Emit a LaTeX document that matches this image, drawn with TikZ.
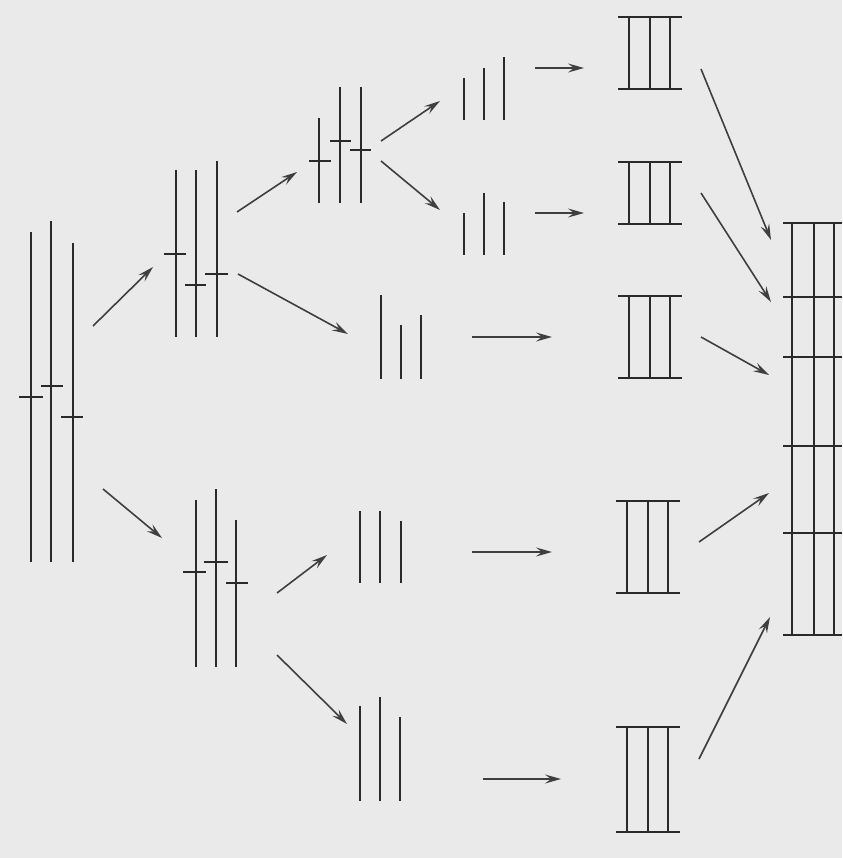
\documentclass[tikz,border=0pt]{standalone}
\usetikzlibrary{arrows.meta}
\definecolor{ink}{HTML}{2A2A2A}
\definecolor{bgc}{HTML}{EAEAEA}
\begin{document}
\begin{tikzpicture}[x=1pt,y=-1pt,
  bar/.style={line width=2pt, draw=ink},
  arr/.style={line width=1.6pt, draw=ink!90, -{Stealth[length=16pt,width=9pt,inset=6pt]}}]
\fill[bgc] (0,0) rectangle (842,858);
\useasboundingbox (0,0) rectangle (842,858);

% ---- group A (leftmost)
\draw[bar] (31,232) -- (31,562);
\draw[bar] (51,221) -- (51,562);
\draw[bar] (73,243) -- (73,562);
\draw[bar] (19,397) -- (43,397);
\draw[bar] (41,386) -- (63,386);
\draw[bar] (61,417) -- (83,417);

% ---- group B (upper second)
\draw[bar] (176,170) -- (176,337);
\draw[bar] (196,170) -- (196,337);
\draw[bar] (217,161) -- (217,337);
\draw[bar] (164,254) -- (186,254);
\draw[bar] (185,285) -- (206,285);
\draw[bar] (205,274) -- (228,274);

% ---- group G (lower second)
\draw[bar] (196,500) -- (196,667);
\draw[bar] (216,489) -- (216,667);
\draw[bar] (236,520) -- (236,667);
\draw[bar] (183,572) -- (206,572);
\draw[bar] (204,562) -- (228,562);
\draw[bar] (226,583) -- (248,583);

% ---- group C (top third)
\draw[bar] (319,118) -- (319,203);
\draw[bar] (340,87) -- (340,203);
\draw[bar] (361,87) -- (361,203);
\draw[bar] (309,161) -- (331,161);
\draw[bar] (330,141) -- (351,141);
\draw[bar] (350,150) -- (371,150);

% ---- group F (middle third)
\draw[bar] (381,295) -- (381,379);
\draw[bar] (401,325) -- (401,379);
\draw[bar] (421,315) -- (421,379);

% ---- group H
\draw[bar] (360,511) -- (360,583);
\draw[bar] (380,511) -- (380,583);
\draw[bar] (401,521) -- (401,583);

% ---- group I
\draw[bar] (360,706) -- (360,801);
\draw[bar] (380,697) -- (380,801);
\draw[bar] (400,717) -- (400,801);

% ---- group D
\draw[bar] (464,78) -- (464,120);
\draw[bar] (484,68) -- (484,120);
\draw[bar] (504,57) -- (504,120);

% ---- group E
\draw[bar] (464,213) -- (464,255);
\draw[bar] (484,193) -- (484,255);
\draw[bar] (504,202) -- (504,255);

% ---- frames (fourth column)
\foreach \t/\b/\l in {17/89/618, 162/224/618, 296/378/618, 501/593/616, 727/832/616}{
  \draw[bar] (\l,\t) -- (\l+64,\t);
  \draw[bar] (\l,\b) -- (\l+64,\b);
  \draw[bar] (\l+11,\t) -- (\l+11,\b);
  \draw[bar] (\l+32,\t) -- (\l+32,\b);
  \draw[bar] (\l+52,\t) -- (\l+52,\b);
}

% ---- final grid
\foreach \y in {223,297,357,446,533,635}{
  \draw[bar] (783,\y) -- (842,\y);
}
\foreach \x in {792,814,834}{
  \draw[bar] (\x,223) -- (\x,635);
}

% ---- arrow end points
\coordinate (a1s) at (93,326);  \coordinate (a1e) at (153,267);
\coordinate (a2s) at (103,489); \coordinate (a2e) at (162,538);
\coordinate (b1s) at (237,212); \coordinate (b1e) at (297,172);
\coordinate (b2s) at (238,274); \coordinate (b2e) at (348,334);
\coordinate (c1s) at (381,141); \coordinate (c1e) at (440,101);
\coordinate (c2s) at (381,161); \coordinate (c2e) at (440,210);
\coordinate (g1s) at (277,593); \coordinate (g1e) at (327,555);
\coordinate (g2s) at (277,655); \coordinate (g2e) at (347,724);
\coordinate (d1s) at (535,68);  \coordinate (d1e) at (584,68);
\coordinate (e1s) at (535,213); \coordinate (e1e) at (584,213);
\coordinate (f1s) at (472,337); \coordinate (f1e) at (552,337);
\coordinate (h1s) at (472,552); \coordinate (h1e) at (552,552);
\coordinate (i1s) at (483,779); \coordinate (i1e) at (561,779);
\coordinate (k1s) at (701,69);  \coordinate (k1e) at (771,240);
\coordinate (k2s) at (701,193); \coordinate (k2e) at (771,302);
\coordinate (k3s) at (701,337); \coordinate (k3e) at (769,375);
\coordinate (k4s) at (699,542); \coordinate (k4e) at (769,493);
\coordinate (k5s) at (699,759); \coordinate (k5e) at (770,617);

\foreach \n in {a1,a2,b1,b2,c1,c2,g1,g2,d1,e1,f1,h1,i1,k1,k2,k3,k4,k5}{
  \draw[arr] (\n s) -- (\n e);
}
\end{tikzpicture}
\end{document}
